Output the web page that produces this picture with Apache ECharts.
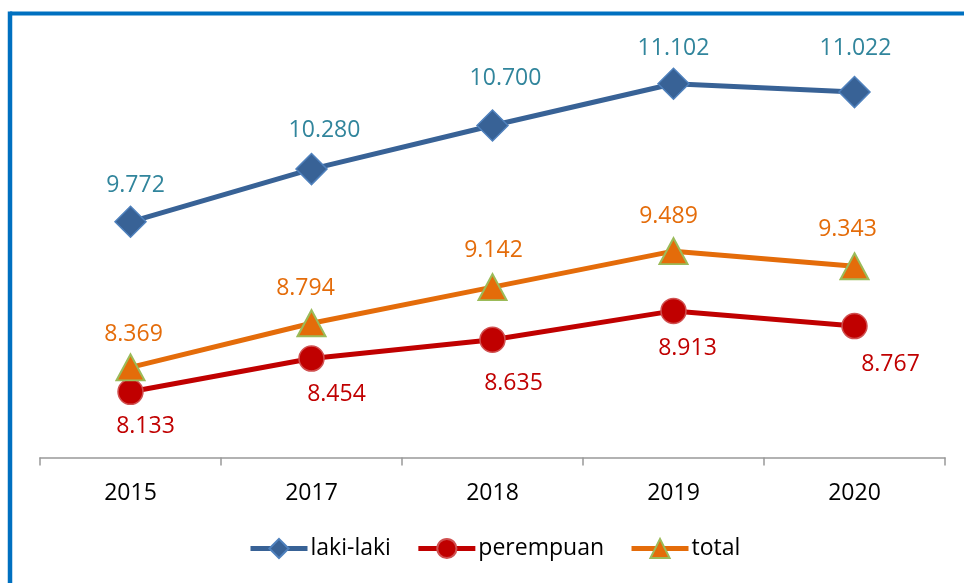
<!DOCTYPE html>
<html><head><meta charset="utf-8">
<script src="https://cdn.jsdelivr.net/npm/echarts@6/dist/echarts.min.js"></script>
<style>html,body{margin:0;padding:0;background:#fff}#c{width:964px;height:583px}</style>
</head><body><div id="c"></div>
<script>
var categories = ['2015', '2017', '2018', '2019', '2020'];
var lakiLaki = [9.772, 10.280, 10.700, 11.102, 11.022];
var perempuan = [8.133, 8.454, 8.635, 8.913, 8.767];
var total = [8.369, 8.794, 9.142, 9.489, 9.343];
var seriesNames = ['laki-laki', 'perempuan', 'total'];

// label nudges (pixels) to match the manually placed labels of the original
var lakiOffsets = [[5,0],[13,-2],[13,-10],[0,1],[1,-7]];
var perOffsets = [[15,4],[25,5],[21,13],[14,7],[36,8]];
var totOffsets = [[3,0],[-6,-2],[1,-4],[-5,-2],[-7,-4]];

var FONT = '"Open Sans", "Noto Sans", sans-serif';
function fmt(v){ return v.toFixed(3); }
function withOffsets(vals, offs){
  return vals.map(function(v,i){ return {value:v, label:{offset:offs[i]}}; });
}
var chart = echarts.init(document.getElementById('c'), null, {renderer:'canvas'});
chart.setOption({
  animation: false,
  backgroundColor: '#fff',
  graphic: [
    {type:'line', shape:{x1:10, y1:13.5, x2:964, y2:13.5}, style:{stroke:'#0070C0', lineWidth:4}},
    {type:'line', shape:{x1:10, y1:11.5, x2:10, y2:583}, style:{stroke:'#0070C0', lineWidth:4.5}}
  ],
  grid: {left:40, right:19, top:42.5, bottom:125.5},
  legend: {
    data: seriesNames, bottom: 18, left: 243, itemWidth: 57, itemHeight: 24, itemGap: 25,
    lineStyle: {width: 5},
    textStyle: {fontFamily: FONT, fontSize: 23, color:'#000', padding:[0,0,0,-2]}
  },
  xAxis: {
    type:'category', data: categories, boundaryGap: true,
    axisLine: {show:true, lineStyle:{color:'#999', width:1.5}},
    axisTick: {show:true, length: 8, interval: 0, lineStyle:{color:'#999', width:1.5}},
    axisLabel: {fontFamily: FONT, fontSize: 23, color:'#000', margin: 24}
  },
  yAxis: {type:'value', min:7.5, max:11.5, show:false, splitLine:{show:false}},
  series: [
    {name:'laki-laki', type:'line', data: withOffsets(lakiLaki, lakiOffsets), symbol:'diamond', symbolSize:[31,31],
      lineStyle:{color:'#386296', width:5}, itemStyle:{color:'#386296', borderColor:'#4F81BD', borderWidth:1.5},
      label:{show:true, position:'top', distance:9, color:'#31859C', fontFamily:FONT, fontSize:23, formatter:function(p){return fmt(p.value);}}},
    {name:'perempuan', type:'line', data: withOffsets(perempuan, perOffsets), symbol:'circle', symbolSize:25,
      lineStyle:{color:'#C00000', width:5}, itemStyle:{color:'#C00000', borderColor:'#D05050', borderWidth:1.5},
      label:{show:true, position:'bottom', distance:6, color:'#C00000', fontFamily:FONT, fontSize:23, formatter:function(p){return fmt(p.value);}}},
    {name:'total', type:'line', data: withOffsets(total, totOffsets), symbol:'triangle', symbolSize:[28,26],
      lineStyle:{color:'#E46C0A', width:5}, itemStyle:{color:'#E46C0A', borderColor:'#9BBB59', borderWidth:2},
      label:{show:true, position:'top', distance:7, color:'#E46C0A', fontFamily:FONT, fontSize:23, formatter:function(p){return fmt(p.value);}}}
  ]
});
</script></body></html>
